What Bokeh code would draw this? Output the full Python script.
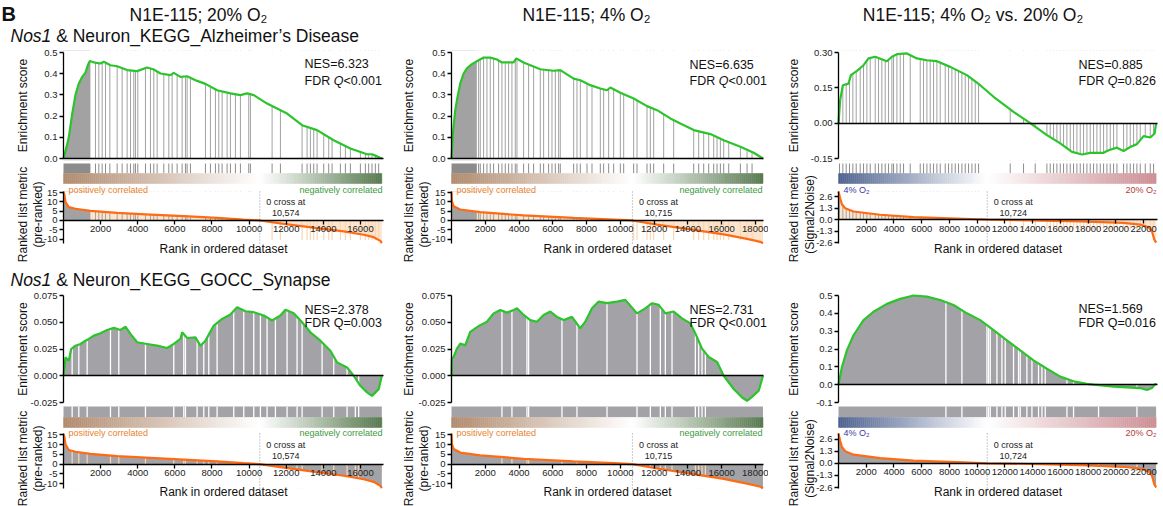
import numpy as np
from bokeh.plotting import figure
from bokeh.models import Range1d, FixedTicker, Label, LinearAxis, PrintfTickFormatter
from bokeh.layouts import row
from bokeh.embed import file_html
from bokeh.resources import INLINE

FONT = "Liberation Sans"
GREEN = "#2bc42b"
ORANGE = "#ff6a13"
HITGRAY = "#a2a2a2"
STRIPGRAY = "#8c8c8c"
FILLGRAY = "#a3a3a7"
PEACH = "#fde5cd"
PEACH_DARK = "#f9d6b4"

# ------------------------------------------------------------------ data
N_20, N_4, N_VS = 17150, 18450, 22900
ZC_20, ZC_4, ZC_VS = 10574, 10715, 10724

RANK_TICKS_20 = [2000, 4000, 6000, 8000, 10000, 12000, 14000, 16000]
RANK_TICKS_4 = [2000, 4000, 6000, 8000, 10000, 12000, 14000, 16000, 18000]
RANK_TICKS_VS = [2000, 4000, 6000, 8000, 10000, 12000, 14000, 16000, 18000, 20000, 22000]

METRIC_TICKS_PR = [-10, -5, 0, 5, 10, 15]
METRIC_TICKS_SN = [-2.6, -1.3, 0.0, 1.3, 2.6]

METRIC_20_RANK = [0, 54, 108, 287, 646, 1454, 2890, 4685, 6480, 8275, 9711, 10574,
                  11866, 13661, 15097, 16173, 16711, 17070, 17150]
METRIC_20 = [15.5, 13.5, 9.9, 7.2, 6.3, 5.2, 4.1, 3.2, 2.3, 1.4, 0.5, 0.0,
             -1.8, -4.1, -5.9, -7.7, -9.0, -11.0, -12.2]
METRIC_4_RANK = [0, 20, 123, 519, 1704, 4272, 7235, 9605, 10715, 12173, 14148,
                 16123, 17506, 18296, 18450]
METRIC_4 = [15.5, 10.4, 7.7, 5.9, 4.5, 2.7, 1.4, 0.5, 0.0, -2.2, -4.8,
            -7.5, -9.9, -11.5, -12.3]
METRIC_VS_RANK = [0, 120, 245, 483, 1082, 3007, 5411, 9014, 10724, 13824, 17430,
                  20555, 21757, 22357, 22598, 22767, 22900]
METRIC_VS = [3.2, 2.42, 1.75, 1.3, 0.93, 0.56, 0.30, 0.11, 0.0, -0.07, -0.19,
             -0.37, -0.56, -0.86, -1.30, -2.23, -2.6]

ES_ALZ_20_RANK = [0, 150, 285, 468, 646, 825, 1005, 1185, 1310, 1418, 1700, 1992, 2170,
                  2531, 2890, 3430, 3968, 4507, 4865, 5224, 5762, 5940, 6300, 6660,
                  7200, 7650, 8275, 8993, 9531, 9890, 10250, 10968, 12045, 12853,
                  13660, 14557, 15455, 16352, 16622, 16900, 17150]
ES_ALZ_20 = [0.0, 0.05, 0.10, 0.21, 0.30, 0.354, 0.385, 0.405, 0.44, 0.46, 0.452, 0.448,
             0.456, 0.44, 0.435, 0.417, 0.412, 0.429, 0.42, 0.401, 0.393, 0.404, 0.385,
             0.388, 0.366, 0.352, 0.322, 0.307, 0.299, 0.307, 0.299, 0.259, 0.212,
             0.157, 0.134, 0.086, 0.047, 0.020, 0.020, 0.010, 0.0]
HITS_ALZ_20 = [1723, 1903, 2083, 2262, 2496, 2890, 3160, 3429, 3608, 3788, 3877, 4003,
               4416, 4685, 4865, 5045, 5404, 5673, 5853, 6122, 6391, 6570, 6660, 6839,
               7647, 7916, 8185, 8366, 8546, 8815, 8993, 9262, 9531, 9980, 10070, 11238,
               11686, 12854, 13123, 13301, 13481, 13661, 14020, 14289, 14469, 14917,
               15186, 15455, 15994, 16263, 16442, 16622, 16800, 16980]
DENSE_ALZ_20 = [(0, 1450)]

ES_ALZ_4_RANK = [0, 84, 222, 360, 518, 716, 913, 1210, 1506, 1901, 2296, 2691, 2988,
                 3679, 3837, 4270, 5259, 6049, 6444, 7235, 7630, 8222, 8815, 9210, 9407,
                 10000, 10790, 11580, 12173, 12963, 13556, 14346, 15333, 16123, 17111,
                 17901, 18450]
ES_ALZ_4 = [0.0, 0.118, 0.228, 0.291, 0.354, 0.401, 0.425, 0.445, 0.459, 0.476, 0.476,
            0.467, 0.453, 0.453, 0.472, 0.453, 0.421, 0.414, 0.417, 0.377, 0.369, 0.346,
            0.330, 0.322, 0.335, 0.310, 0.283, 0.247, 0.228, 0.189, 0.165, 0.134,
            0.115, 0.086, 0.055, 0.027, 0.0]
HITS_ALZ_4 = [1605, 1704, 1901, 2099, 2296, 2494, 2790, 2988, 3185, 3383, 3580, 3778,
              3877, 4272, 4568, 4864, 5259, 5457, 5753, 5951, 6148, 6346, 6444, 7235,
              7432, 7630, 8025, 8321, 8815, 9012, 9309, 9605, 10000, 10198, 10790,
              10988, 11580, 11778, 11975, 12568, 13160, 14346, 14642, 14938, 15235,
              15531, 15728, 15926, 16123, 16420, 17111, 17506, 17802]
DENSE_ALZ_4 = [(0, 1500)]

ES_ALZ_VS_RANK = [0, 120, 314, 721, 894, 1327, 1808, 2163, 2645, 3490, 3851, 4211, 4932,
                  5654, 6375, 7096, 8055, 9259, 10218, 11179, 12621, 13824, 15027,
                  15988, 16831, 17552, 18152, 19113, 19474, 20075, 20553, 21035, 21518,
                  21995, 22478, 22790, 22900]
ES_ALZ_VS = [0.0, 0.098, 0.161, 0.168, 0.204, 0.222, 0.246, 0.275, 0.282, 0.263, 0.282,
             0.293, 0.296, 0.275, 0.267, 0.263, 0.239, 0.204, 0.161, 0.112, 0.048, 0.0,
             -0.051, -0.086, -0.122, -0.133, -0.126, -0.126, -0.115, -0.104, -0.118,
             -0.101, -0.089, -0.055, -0.061, -0.044, 0.0]
HITS_ALZ_VS = [75, 314, 555, 795, 1036, 1276, 1565, 1805, 2046, 2286, 2647, 2887, 3127,
               3368, 3608, 3849, 3969, 4210, 4450, 4690, 5171, 5892, 6132, 6373, 6613,
               6853, 7094, 7334, 7695, 7935, 8176, 8416, 8656, 8897, 9137, 9378, 9618,
               9858, 10099, 12381, 13342, 14184, 15026, 15266, 15507, 15747, 15988,
               16228, 16468, 16709, 16949, 17190, 17430, 17670, 17911, 18151, 18391,
               18632, 18872, 19113, 19353, 19593, 19834, 20074, 20555, 20795, 21035,
               21276, 21516, 21757, 22117, 22478, 22718]

ES_SYN_20_RANK = [0, 108, 287, 413, 646, 915, 1185, 1364, 1633, 1992, 2352, 2711, 3070,
                  3339, 3608, 3967, 4505, 5045, 5584, 5940, 6300, 6392, 6661, 7108, 7377,
                  7647, 8096, 8546, 8993, 9353, 9801, 10250, 10788, 11238, 11686, 11955,
                  12402, 12854, 13301, 13840, 14378, 14738, 15277, 15634, 15994, 16353,
                  16622, 16980, 17150]
ES_SYN_20 = [0.0, 0.0172, 0.0141, 0.025, 0.0281, 0.0297, 0.0328, 0.0344, 0.0375, 0.0397,
             0.0428, 0.0447, 0.0428, 0.0459, 0.0391, 0.0313, 0.0297, 0.0281, 0.0259,
             0.0297, 0.0344, 0.0406, 0.0353, 0.0359, 0.0281, 0.0328, 0.0469, 0.0531,
             0.0572, 0.0641, 0.0603, 0.0594, 0.0563, 0.0516, 0.0563, 0.0616, 0.0584,
             0.05, 0.0406, 0.0328, 0.0234, 0.0125, 0.0078, 0.0, -0.0094, -0.0156,
             -0.0188, -0.0125, 0.0]
GAPS_SYN_20 = [466, 825, 1274, 2531, 2980, 4416, 5940, 6480, 6570, 7198, 7557, 7827, 8275,
               9172, 9711, 10250, 10609, 10968, 11417, 12045, 12584, 12854, 13931, 14559,
               15277, 15724, 15903]

ES_SYN_4_RANK = [0, 20, 123, 322, 519, 815, 1111, 1407, 1704, 2099, 2494, 2889, 3284,
                 3679, 3877, 4272, 4667, 5062, 5457, 5852, 6247, 6642, 7136, 7630, 7926,
                 8321, 8717, 9210, 9803, 10296, 10988, 11481, 11876, 12272, 12667, 13160,
                 13654, 14148, 14444, 14839, 15235, 15729, 16123, 16716, 17210, 17506,
                 17802, 18197, 18450]
ES_SYN_4 = [0.0, 0.0159, 0.0175, 0.0253, 0.030, 0.0285, 0.041, 0.0442, 0.0473, 0.0505,
            0.0583, 0.0615, 0.059, 0.0615, 0.063, 0.0568, 0.052, 0.0505, 0.0568, 0.060,
            0.055, 0.052, 0.055, 0.0442, 0.0505, 0.063, 0.0693, 0.0678, 0.0693, 0.0709,
            0.0583, 0.063, 0.0678, 0.0662, 0.0583, 0.060, 0.0536, 0.0489, 0.0395,
            0.0253, 0.0175, 0.0128, 0.0, -0.0124, -0.0203, -0.0234, -0.0197, -0.014, 0.0]
GAPS_SYN_4 = [2988, 3580, 4469, 4568, 6543, 7432, 9210, 10988, 11778, 12370, 12667,
              13062, 14444, 14642, 14839, 15037]

ES_SYN_VS_RANK = [0, 245, 606, 1082, 1803, 2524, 3490, 4450, 5409, 6375, 7334, 8293,
                  9259, 10218, 11179, 12143, 13103, 14062, 15027, 15988, 16947, 17911,
                  18400, 19831, 20795, 21757, 22238, 22598, 22839, 22900]
ES_SYN_VS = [0.0, 0.098, 0.192, 0.277, 0.362, 0.409, 0.453, 0.481, 0.50, 0.494, 0.475,
             0.447, 0.40, 0.362, 0.306, 0.249, 0.192, 0.136, 0.089, 0.045, 0.019, 0.004,
             0.0, -0.011, -0.015, -0.019, -0.030, -0.019, 0.004, 0.0]
GAPS_SYN_VS = [7745, 8899, 10702, 10818, 10940, 11423, 11784, 12021, 12620, 12980, 13103,
               13584, 13947, 14423, 14668, 14906, 16471, 16947, 18749, 21518]

COL_TITLES = ["N1E-115; 20% O\u2082", "N1E-115; 4% O\u2082", "N1E-115; 4% O\u2082 vs. 20% O\u2082"]
SET_TITLES = ["& Neuron_KEGG_Alzheimer\u2019s Disease", "& Neuron_KEGG_GOCC_Synapse"]
NES_TEXT = [["NES=6.323", "NES=6.635", "NES=0.885"], ["NES=2.378", "NES=2.731", "NES=1.569"]]
FDR_TEXT = [["<0.001", "<0.001", "=0.826"], ["=0.003", "<0.001", "=0.016"]]

# ------------------------------------------------------------------ layout geometry (page pixels)
H = 506
COLS = [
    dict(x0=0, w=388, mbl=63, mbr=5, xmax=17240, lab1=22, lab2=37, nes_x=304, title_x=198),
    dict(x0=388, w=380, mbl=63, mbr=5, xmax=18480, lab1=408, lab2=423, nes_x=689, title_x=586),
    dict(x0=768, w=395, mbl=70, mbr=6, xmax=23000, lab1=793, lab2=809, nes_x=1078, title_x=972.5),
]
ROWS = [
    dict(es_top=50, es_bot=160, es_dtop=52, es_dbot=158, m_top=191, m_bot=243,
         hit=(163, 173), grad=(173, 183), corr_y=189, zc_y=(201.7, 212.3), rank_y=248,
         mlab_y=214, nes_y=[63, 64.5, 64.5], fdr_y=80),
    dict(es_top=293, es_bot=404, es_dtop=295, es_dbot=402, m_top=433, m_bot=488,
         hit=(406, 417), grad=(417, 427), corr_y=432, zc_y=(444.7, 455.3), rank_y=491,
         mlab_y=458, nes_y=[309, 309, 308.5], fdr_y=322.5),
]

DATASETS = [
    dict(n=N_20, zc=ZC_20, zc_text="10,574", ticks=RANK_TICKS_20, mx=METRIC_20_RANK, my=METRIC_20,
         m_lo=-12.4, m_hi=15.6, mticks=METRIC_TICKS_PR, mfmt="%d", mlab2="(pre-ranked)",
         neg_to=-10.5, c_left=(176, 138, 110), c_right=(88, 122, 80),
         l_text="positively correlated", l_col="#e8822e", r_text="negatively correlated", r_col="#3c9a3c"),
    dict(n=N_4, zc=ZC_4, zc_text="10,715", ticks=RANK_TICKS_4, mx=METRIC_4_RANK, my=METRIC_4,
         m_lo=-12.4, m_hi=15.6, mticks=METRIC_TICKS_PR, mfmt="%d", mlab2="(pre-ranked)",
         neg_to=-10.5, c_left=(176, 138, 110), c_right=(88, 122, 80),
         l_text="positively correlated", l_col="#e8822e", r_text="negatively correlated", r_col="#3c9a3c"),
    dict(n=N_VS, zc=ZC_VS, zc_text="10,724", ticks=RANK_TICKS_VS, mx=METRIC_VS_RANK, my=METRIC_VS,
         m_lo=-2.7, m_hi=3.2, mticks=METRIC_TICKS_SN, mfmt="%.1f", mlab2="(Signal2Noise)",
         neg_to=-1.1, c_left=(78, 98, 143), c_right=(204, 142, 148),
         l_text="4% O\u2082", l_col="#3a3aa8", r_text="20% O\u2082", r_col="#b23a3a"),
]

PANELS = [
    [dict(mode="sparse", es_x=ES_ALZ_20_RANK, es_y=ES_ALZ_20, hits=HITS_ALZ_20,
          dense=DENSE_ALZ_20, yticks=[0.0, 0.1, 0.2, 0.3, 0.4, 0.5], yfmt="%.1f"),
     dict(mode="dense", es_x=ES_SYN_20_RANK, es_y=ES_SYN_20, gaps=GAPS_SYN_20,
          yticks=[-0.025, 0.0, 0.025, 0.05, 0.075], yfmt="%.3f")],
    [dict(mode="sparse", es_x=ES_ALZ_4_RANK, es_y=ES_ALZ_4, hits=HITS_ALZ_4,
          dense=DENSE_ALZ_4, yticks=[0.0, 0.1, 0.2, 0.3, 0.4, 0.5], yfmt="%.1f"),
     dict(mode="dense", es_x=ES_SYN_4_RANK, es_y=ES_SYN_4, gaps=GAPS_SYN_4,
          yticks=[-0.025, 0.0, 0.025, 0.05, 0.075], yfmt="%.3f")],
    [dict(mode="sparse", es_x=ES_ALZ_VS_RANK, es_y=ES_ALZ_VS, hits=HITS_ALZ_VS,
          dense=[], yticks=[-0.15, 0.0, 0.15, 0.30], yfmt="%.2f"),
     dict(mode="dense", es_x=ES_SYN_VS_RANK, es_y=ES_SYN_VS, gaps=GAPS_SYN_VS,
          yticks=[-0.1, 0.0, 0.1, 0.2, 0.3, 0.4, 0.5], yfmt="%.1f")],
]


# ------------------------------------------------------------------ helpers
def style_axis(ax, size="9.5px"):
    ax.axis_line_color = "black"
    ax.axis_line_width = 1.3
    ax.major_tick_line_color = "black"
    ax.major_tick_line_width = 1.3
    ax.major_tick_out = 4
    ax.major_tick_in = 0
    ax.minor_tick_line_color = None
    ax.major_label_text_font = FONT
    ax.major_label_text_font_size = size
    ax.major_label_text_color = "#222222"
    ax.major_label_standoff = 2


def lab(p, x, y, text, size, color="#111111", align="left", style="normal", angle=0.0,
        xr="px", x_offset=0):
    kw = dict(x=x, y=y, text=text, text_font=FONT, text_font_size=size, text_color=color,
              text_align=align, text_baseline="middle", text_font_style=style, angle=angle,
              x_offset=x_offset)
    if xr is not None:
        kw["x_range_name"] = xr
    p.add_layout(Label(**kw))


def grad_colors(c_left, c_right, frac0, n):
    out = []
    for i in range(n):
        t = (i + 0.5) / n
        if t < frac0:
            a, c = 1 - t / frac0, c_left
        else:
            a, c = (t - frac0) / (1 - frac0), c_right
        out.append("#%02x%02x%02x" % tuple(int(round(255 + (ci - 255) * a)) for ci in c))
    return out


def vrange(lo, hi, px_lo, px_hi):
    """range for a value axis whose lo sits at page pixel px_lo and hi at px_hi"""
    s = (hi - lo) / (px_lo - px_hi)
    return Range1d(lo - (H - px_lo) * s, hi + px_hi * s), s


def add_panel(p, ci, ri, spec):
    c = COLS[ci]
    r = ROWS[ri]
    d = DATASETS[ci]
    fl = c["x0"] + c["mbl"]
    fr = c["x0"] + c["w"] - c["mbr"]
    ex = np.array(spec["es_x"], dtype=float)
    ey = np.array(spec["es_y"], dtype=float)
    esn, mn = "es%d" % ri, "m%d" % ri

    # ---------------- enrichment score
    lo, hi = spec["yticks"][0], spec["yticks"][-1]
    rng, s = vrange(lo, hi, r["es_dbot"], r["es_dtop"])
    p.extra_y_ranges[esn] = rng
    v_bot = lo - (r["es_bot"] - r["es_dbot"]) * s
    v_top = hi + (r["es_dtop"] - r["es_top"]) * s

    if spec["mode"] == "sparse":
        for a, b in spec["dense"]:
            p.quad(left=a, right=b, bottom=v_bot, top=v_top, fill_color=HITGRAY,
                   line_color=None, y_range_name=esn)
        p.segment(x0=spec["hits"], y0=v_bot, x1=spec["hits"], y1=v_top, line_color=HITGRAY,
                  line_width=1, y_range_name=esn)
        p.varea(x=ex, y1=np.maximum(ey, 0), y2=v_top, fill_color="white", y_range_name=esn)
        p.varea(x=ex, y1=v_bot, y2=np.minimum(ey, 0), fill_color="white", y_range_name=esn)
    else:
        p.varea(x=ex, y1=0, y2=ey, fill_color=FILLGRAY, y_range_name=esn)
        p.segment(x0=spec["gaps"], y0=v_bot, x1=spec["gaps"], y1=v_top, line_color="white",
                  line_width=1.3, y_range_name=esn)
    p.line(ex, ey, line_color=GREEN, line_width=2.2, y_range_name=esn)

    yax = LinearAxis(y_range_name=esn, fixed_location=0, bounds=(lo, hi),
                     ticker=FixedTicker(ticks=spec["yticks"]),
                     formatter=PrintfTickFormatter(format=spec["yfmt"]))
    style_axis(yax)
    p.add_layout(yax, "left")
    base = LinearAxis(y_range_name=esn, fixed_location=0, bounds=(0, c["xmax"]),
                      ticker=FixedTicker(ticks=[]))
    style_axis(base)
    base.axis_line_width = 1.5
    p.add_layout(base, "below")

    lab(p, c["lab1"], (r["es_dtop"] + r["es_dbot"]) / 2, "Enrichment score", "12px",
        align="center", angle=np.pi / 2)
    nes = NES_TEXT[ri][ci]
    fdr = FDR_TEXT[ri][ci]
    lab(p, c["nes_x"], r["nes_y"][ci], nes, "12.5px")
    if ri == 0:
        lab(p, c["nes_x"], r["fdr_y"], "FDR", "12.5px")
        lab(p, c["nes_x"] + 29.2, r["fdr_y"], "Q", "12.5px", style="italic")
        lab(p, c["nes_x"] + 38.9, r["fdr_y"], fdr, "12.5px")
    else:
        lab(p, c["nes_x"], r["fdr_y"], "FDR Q" + fdr, "12.5px")

    # ---------------- hit strip and gradient bar (page-pixel y)
    h0, h1 = r["hit"]
    g0, g1 = r["grad"]
    n = d["n"]
    if spec["mode"] == "sparse":
        for a, b in spec["dense"]:
            p.quad(left=a, right=b, bottom=h1, top=h0, fill_color=STRIPGRAY, line_color=None)
        p.segment(x0=spec["hits"], y0=h0, x1=spec["hits"], y1=h1, line_color=STRIPGRAY,
                  line_width=1)
    else:
        p.quad(left=0, right=n, bottom=h1, top=h0, fill_color=FILLGRAY, line_color=None)
        p.segment(x0=spec["gaps"], y0=h0, x1=spec["gaps"], y1=h1, line_color="white",
                  line_width=1.3)
    ng = 160
    edges = np.linspace(0, n, ng + 1)
    cols = grad_colors(d["c_left"], d["c_right"], d["zc"] / n, ng)
    p.quad(left=edges[:-1], right=edges[1:], bottom=g1, top=g0, fill_color=cols,
           line_color=cols, line_width=0.5)

    # ---------------- ranked list metric
    m_lo, m_hi = d["m_lo"], d["m_hi"]
    mrng, _ = vrange(m_lo, m_hi, r["m_bot"], r["m_top"])
    p.extra_y_ranges[mn] = mrng
    mx = np.array(d["mx"], dtype=float)
    my = np.array(d["my"], dtype=float)
    if spec["mode"] == "sparse":
        p.varea(x=mx, y1=0, y2=my, fill_color=PEACH, y_range_name=mn)
        for a, b in spec["dense"]:
            p.quad(left=a, right=b, bottom=0, top=m_hi, fill_color=HITGRAY, line_color=None,
                   y_range_name=mn)
        hits = np.array(spec["hits"])
        pos = hits[hits < d["zc"]]
        neg = hits[hits >= d["zc"]]
        p.segment(x0=pos, y0=0, x1=pos, y1=m_hi, line_color=HITGRAY, line_width=1,
                  y_range_name=mn)
        p.segment(x0=neg, y0=0, x1=neg, y1=d["neg_to"], line_color=PEACH_DARK,
                  line_width=1.2, y_range_name=mn)
        p.varea(x=mx, y1=np.maximum(my, 0), y2=m_hi, fill_color="white", y_range_name=mn)
    else:
        p.varea(x=mx, y1=0, y2=my, fill_color=FILLGRAY, y_range_name=mn)
        p.segment(x0=spec["gaps"], y0=m_lo, x1=spec["gaps"], y1=m_hi, line_color=PEACH_DARK,
                  line_width=1.2, y_range_name=mn)
        p.varea(x=mx, y1=np.maximum(my, 0), y2=m_hi, fill_color="white", y_range_name=mn)
        p.varea(x=mx, y1=m_lo, y2=np.minimum(my, 0), fill_color="white", y_range_name=mn)
    p.line(mx, my, line_color=ORANGE, line_width=2.2, y_range_name=mn)
    p.segment(x0=[d["zc"]], y0=[m_lo], x1=[d["zc"]], y1=[m_hi], line_color="#888888",
              line_width=0.9, line_dash="1 2", y_range_name=mn)

    xax = LinearAxis(y_range_name=mn, fixed_location=0, bounds=(0, c["xmax"]),
                     ticker=FixedTicker(ticks=d["ticks"]))
    style_axis(xax)
    p.add_layout(xax, "below")
    yq = LinearAxis(y_range_name=mn, fixed_location=0, bounds=(m_lo, m_hi),
                    ticker=FixedTicker(ticks=d["mticks"]),
                    formatter=PrintfTickFormatter(format=d["mfmt"]))
    style_axis(yq)
    p.add_layout(yq, "left")

    lab(p, fl + 5, r["corr_y"], d["l_text"], "9px", color=d["l_col"])
    lab(p, fr - 1, r["corr_y"], d["r_text"], "9px", color=d["r_col"], align="right")
    lab(p, d["zc"], r["zc_y"][0], "0 cross at", "9px", color="#222222", align="center",
        xr=None, x_offset=26)
    lab(p, d["zc"], r["zc_y"][1], d["zc_text"], "9px", color="#222222", align="center",
        xr=None, x_offset=26)
    lab(p, (fl + fr) / 2, r["rank_y"], "Rank in ordered dataset", "12px", align="center")
    lab(p, c["lab1"], r["mlab_y"], "Ranked list metric", "12px", align="center",
        angle=np.pi / 2)
    lab(p, c["lab2"], r["mlab_y"], d["mlab2"], "12px", align="center", angle=np.pi / 2)


def build_column(ci):
    c = COLS[ci]
    fl = c["x0"] + c["mbl"]
    fr = c["x0"] + c["w"] - c["mbr"]
    ppr = (fr - fl) / c["xmax"]
    p = figure(width=c["w"], height=H,
               x_range=Range1d(-c["mbl"] / ppr, c["xmax"] + c["mbr"] / ppr),
               y_range=Range1d(H, 0), output_backend="svg", toolbar_location=None,
               title=None, min_border=0, x_axis_type=None, y_axis_type=None)
    p.grid.visible = False
    p.outline_line_color = None
    p.background_fill_color = "white"
    p.border_fill_color = "white"
    p.extra_x_ranges = {"px": Range1d(c["x0"], c["x0"] + c["w"])}
    for ri in range(2):
        add_panel(p, ci, ri, PANELS[ci][ri])
    lab(p, c["title_x"], 14, COL_TITLES[ci], "17.5px", align="center")
    if ci == 0:
        lab(p, 1, 13, "B", "20px", style="bold")
        lab(p, 10, 35, "Nos1", "17.5px", style="italic")
        lab(p, 55.7, 35, SET_TITLES[0], "17.5px")
        lab(p, 10, 279, "Nos1", "17.5px", style="italic")
        lab(p, 55.7, 279, SET_TITLES[1], "17.5px")
    return p


layout = row(*[build_column(ci) for ci in range(3)], spacing=0)
open("out.html", "w").write(file_html(layout, INLINE))
